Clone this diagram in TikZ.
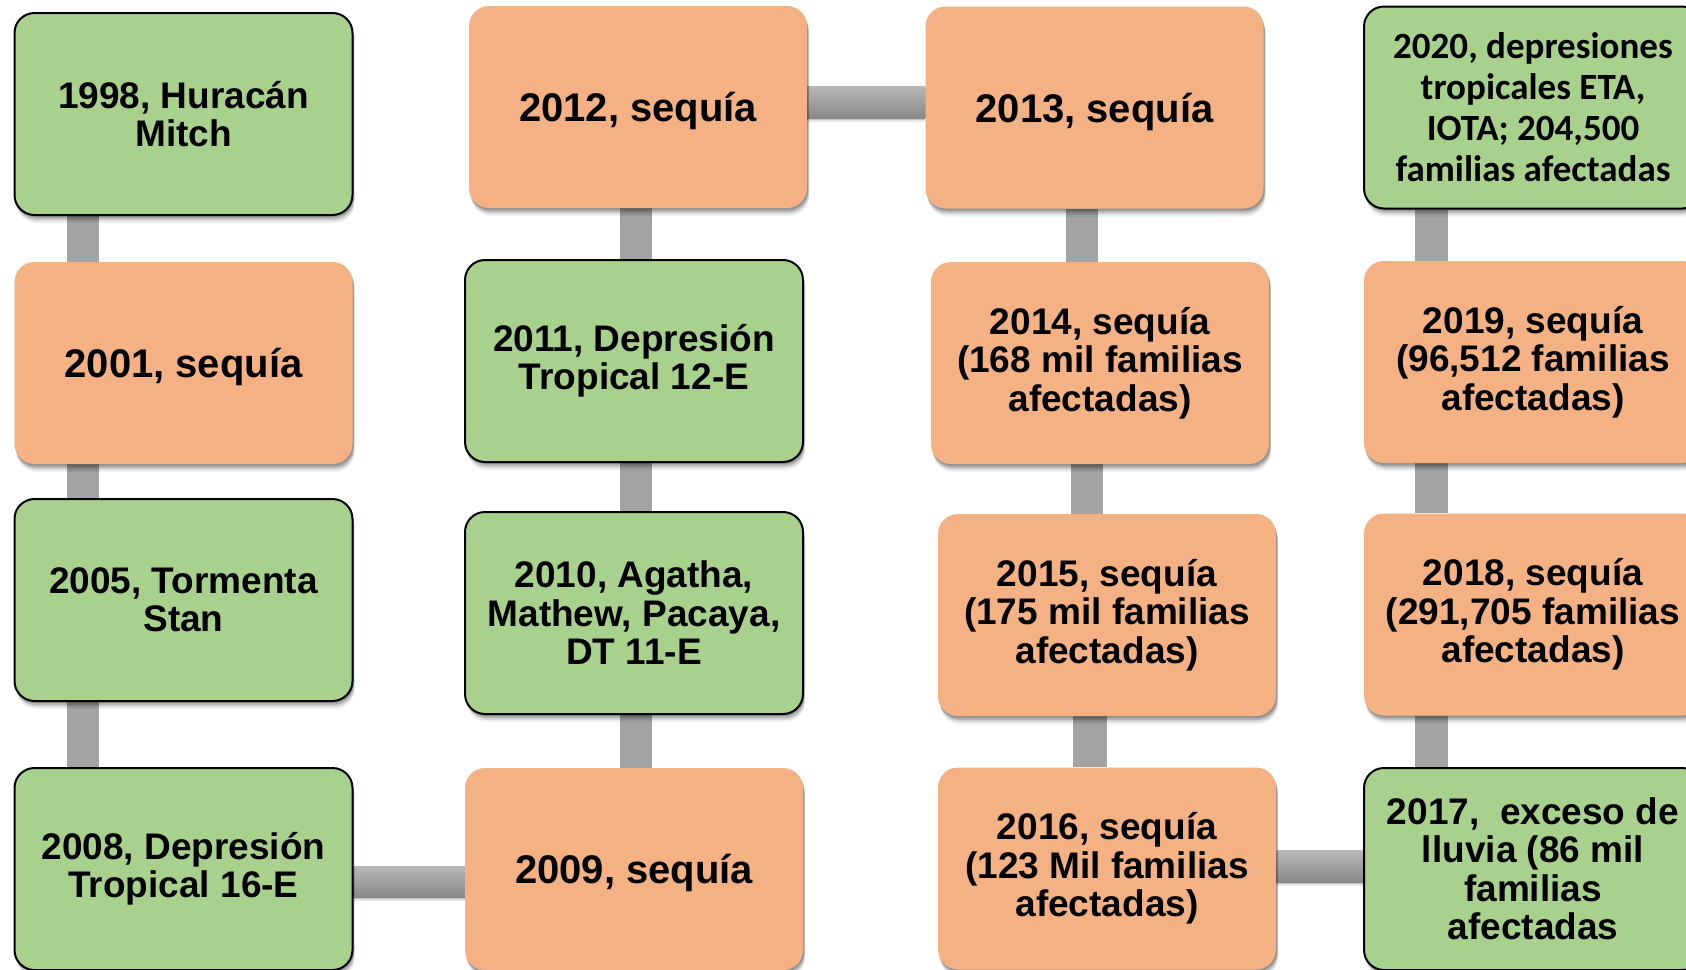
\documentclass[tikz,border=0pt]{standalone}
\usepackage{fontspec}
\setmainfont{Liberation Sans}
\newfontfamily\calib{Carlito}
\usetikzlibrary{shadows,backgrounds}
\definecolor{grn}{RGB}{169,209,142}
\definecolor{org}{RGB}{244,177,131}
\definecolor{barc}{RGB}{163,163,163}
\definecolor{bartop}{RGB}{184,184,184}
\definecolor{barbot}{RGB}{136,136,136}
\tikzset{
 softshadow/.style={
   drop shadow={shadow xshift=1pt, shadow yshift=-2pt, fill=black, opacity=0.18},
   drop shadow={shadow xshift=1.5pt, shadow yshift=-4pt, fill=black, opacity=0.16},
   drop shadow={shadow xshift=2pt, shadow yshift=-6pt, fill=black, opacity=0.10},
   drop shadow={shadow xshift=2pt, shadow yshift=-8pt, fill=black, opacity=0.06}},
 box/.style={rectangle, rounded corners=20pt, minimum width=338pt, minimum height=202pt,
   inner sep=0pt, align=center, font=\fontsize{37}{38.5}\selectfont\bfseries, softshadow},
 gbox/.style={box, fill=grn, draw=black, line width=2pt},
 obox/.style={box, fill=org},
 big/.style={font=\fontsize{40}{42}\selectfont\bfseries, text depth=0pt},
 cal/.style={font=\calib\fontsize{37}{41}\selectfont\bfseries},
 vbar/.style={fill=barc},
 hbar/.style={top color=bartop, bottom color=barbot,
   drop shadow={shadow xshift=0pt, shadow yshift=-2pt, fill=black, opacity=0.15},
   drop shadow={shadow xshift=0pt, shadow yshift=-4pt, fill=black, opacity=0.10}},
}
\begin{document}
\begin{tikzpicture}[x=1pt,y=-1pt]
\useasboundingbox (0,0) rectangle (1686,969);
\begin{scope}[on background layer]
\fill[white] (0,0) rectangle (1686,969);
\end{scope}
% column 1
\node[gbox] (n1998) at (183.5,114) {1998, Huracán\\Mitch};
\node[obox,big] (n2001) at (183.5,363) {2001, sequía};
\node[gbox] (n2005) at (183.5,600) {2005, Tormenta\\Stan};
\node[gbox] (n2008) at (183.5,869) {2008, Depresión\\Tropical 16-E};
% column 2
\node[obox,big] (n2012) at (638,107) {2012, sequía};
\node[gbox] (n2011) at (634,361) {2011, Depresión\\Tropical 12-E};
\node[gbox] (n2010) at (634,613) {2010, Agatha,\\Mathew, Pacaya,\\DT 11-E};
\node[obox,big] (n2009) at (634,869) {2009, sequía};
% column 3
\node[obox,big] (n2013) at (1094.5,107.5) {2013, sequía};
\node[obox] (n2014) at (1100,363) {2014, sequía\\(168 mil familias\\afectadas)};
\node[obox] (n2015) at (1107,615) {2015, sequía\\(175 mil familias\\afectadas)};
\node[obox] (n2016) at (1107,868.5) {2016, sequía\\(123 Mil familias\\afectadas)};
% column 4
\node[gbox,cal] (n2020) at (1533,107.5) {2020, depresiones\\tropicales ETA,\\IOTA; 204,500\\familias afectadas};
\node[obox] (n2019) at (1533,362) {2019, sequía\\(96,512 familias\\afectadas)};
\node[obox] (n2018) at (1533,614.5) {2018, sequía\\(291,705 familias\\afectadas)};
\node[gbox] (n2017) at (1533,869) {2017,\ \ exceso de\\lluvia (86 mil\\familias\\afectadas};
% connectors
\begin{scope}[on background layer]
\fill[vbar] ([xshift=-116.5pt]n1998.south) rectangle ([xshift=-84.5pt]n2001.north);
\fill[vbar] ([xshift=-116.5pt]n2001.south) rectangle ([xshift=-84.5pt]n2005.north);
\fill[vbar] ([xshift=-116.5pt]n2005.south) rectangle ([xshift=-84.5pt]n2008.north);
\fill[vbar] ([xshift=-18pt]n2012.south) rectangle ([xshift=18pt]n2011.north);
\fill[vbar] ([xshift=-14pt]n2011.south) rectangle ([xshift=18pt]n2010.north);
\fill[vbar] ([xshift=-14pt]n2010.south) rectangle ([xshift=18pt]n2009.north);
\fill[vbar] ([xshift=-28.5pt]n2013.south) rectangle ([xshift=-2pt]n2014.north);
\fill[vbar] ([xshift=-29pt]n2014.south) rectangle ([xshift=-4pt]n2015.north);
\fill[vbar] ([xshift=-34pt]n2015.south) rectangle ([xshift=0pt]n2016.north);
\fill[vbar] ([xshift=-118pt]n2020.south) rectangle ([xshift=-85pt]n2019.north);
\fill[vbar] ([xshift=-118pt]n2019.south) rectangle ([xshift=-85pt]n2018.north);
\fill[vbar] ([xshift=-118pt]n2018.south) rectangle ([xshift=-85pt]n2017.north);
\shade[hbar] ([yshift=21pt]n2012.east) rectangle ([yshift=-10.5pt]n2013.west);
\shade[hbar] ([yshift=3pt]n2008.east) rectangle ([yshift=-28pt]n2009.west);
\shade[hbar] ([yshift=18.5pt]n2016.east) rectangle ([yshift=-13pt]n2017.west);
\end{scope}
\end{tikzpicture}
\end{document}
